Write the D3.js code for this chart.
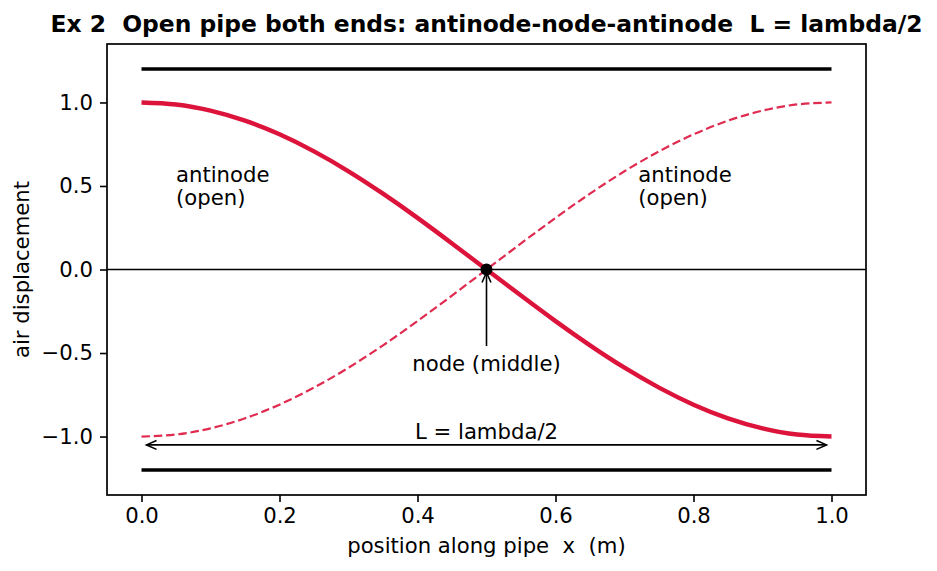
<!DOCTYPE html>
<html>
<head>
<meta charset="utf-8">
<script src="https://cdn.jsdelivr.net/npm/d3@7"></script>
<style>
  body { margin: 0; background: #fff; }
  svg text { font-family: "DejaVu Sans", sans-serif; fill: #000; white-space: pre; }
</style>
</head>
<body>
<div id="chart"></div>
<script>
// values
const xs = [0.0, 0.05, 0.1, 0.15, 0.2, 0.25, 0.3, 0.35, 0.4, 0.45, 0.5,
            0.55, 0.6, 0.65, 0.7, 0.75, 0.8, 0.85, 0.9, 0.95, 1.0];
const solidY = [1.0, 0.988, 0.951, 0.891, 0.809, 0.707, 0.588, 0.454, 0.309, 0.156, 0.0,
                -0.156, -0.309, -0.454, -0.588, -0.707, -0.809, -0.891, -0.951, -0.988, -1.0];
const dashedY = [-1.0, -0.988, -0.951, -0.891, -0.809, -0.707, -0.588, -0.454, -0.309, -0.156, 0.0,
                 0.156, 0.309, 0.454, 0.588, 0.707, 0.809, 0.891, 0.951, 0.988, 1.0];
const pipeWalls = [1.2, -1.2];
const xTicks = [0.0, 0.2, 0.4, 0.6, 0.8, 1.0];
const yTicks = [-1.0, -0.5, 0.0, 0.5, 1.0];
const antinodeLabels = [
  { x: 0.05, y: 0.5, lines: ["antinode", "(open)"] },
  { x: 0.72, y: 0.5, lines: ["antinode", "(open)"] }
];
const node = { x: 0.5, y: 0.0, textY: -0.56, label: "node (middle)" };
const span = { x0: 0.0, x1: 1.0, y: -1.05, textY: -0.97, label: "L = lambda/2" };

const width = 937, height = 571;
const margin = { top: 44, right: 71, bottom: 76, left: 107 };
const fs = 21.2;

const x = d3.scaleLinear().domain([-0.05, 1.05]).range([margin.left, width - margin.right]);
const y = d3.scaleLinear().domain([-1.35, 1.35]).range([height - margin.bottom, margin.top]);

const svg = d3.select("#chart").append("svg")
  .attr("width", width).attr("height", height);

const crimson = "#dc143c";

// zero line
svg.append("line")
  .attr("x1", margin.left).attr("x2", width - margin.right)
  .attr("y1", y(0)).attr("y2", y(0))
  .attr("stroke", "#000").attr("stroke-width", 1.6);

// pipe walls
svg.selectAll(".wall").data(pipeWalls).enter().append("line")
  .attr("x1", x(0)).attr("x2", x(1))
  .attr("y1", d => y(d)).attr("y2", d => y(d))
  .attr("stroke", "#000").attr("stroke-width", 3.6);

const line = d3.line().x(d => x(d[0])).y(d => y(d[1])).curve(d3.curveNatural);

svg.append("path")
  .datum(xs.map((v, i) => [v, dashedY[i]]))
  .attr("d", line).attr("fill", "none")
  .attr("stroke", crimson).attr("stroke-opacity", 0.9)
  .attr("stroke-width", 2.2).attr("stroke-dasharray", "8.5,3.8");

svg.append("path")
  .datum(xs.map((v, i) => [v, solidY[i]]))
  .attr("d", line).attr("fill", "none")
  .attr("stroke", crimson).attr("stroke-width", 4.4);

// node dot
svg.append("circle")
  .attr("cx", x(node.x)).attr("cy", y(node.y)).attr("r", 6).attr("fill", "#000");

function openHead(g, tx, ty, angle) {
  const len = 11, spread = 0.42;
  const p = [
    [tx - len * Math.cos(angle - spread), ty - len * Math.sin(angle - spread)],
    [tx, ty],
    [tx - len * Math.cos(angle + spread), ty - len * Math.sin(angle + spread)]
  ];
  g.append("polyline").attr("points", p.map(q => q.join(",")).join(" "))
    .attr("fill", "none").attr("stroke", "#000").attr("stroke-width", 1.6);
}

// node arrow
const ann = svg.append("g");
const nodeTipY = y(node.y) + 3;
const nodeTailY = y(node.textY) - 17;
ann.append("line")
  .attr("x1", x(node.x)).attr("x2", x(node.x))
  .attr("y1", nodeTailY).attr("y2", nodeTipY)
  .attr("stroke", "#000").attr("stroke-width", 1.6);
openHead(ann, x(node.x), nodeTipY, -Math.PI / 2);
ann.append("text")
  .attr("x", x(node.x)).attr("y", y(node.textY))
  .attr("text-anchor", "middle").attr("dominant-baseline", "central")
  .attr("font-size", fs).text(node.label);

// L span arrow
const sx0 = x(span.x0) + 5, sx1 = x(span.x1) - 5;
ann.append("line")
  .attr("x1", sx0).attr("x2", sx1)
  .attr("y1", y(span.y)).attr("y2", y(span.y))
  .attr("stroke", "#000").attr("stroke-width", 1.6);
openHead(ann, sx0, y(span.y), Math.PI);
openHead(ann, sx1, y(span.y), 0);
ann.append("text")
  .attr("x", x((span.x0 + span.x1) / 2)).attr("y", y(span.textY))
  .attr("text-anchor", "middle").attr("dominant-baseline", "central")
  .attr("font-size", fs).text(span.label);

// antinode labels
antinodeLabels.forEach(a => {
  const t = svg.append("text")
    .attr("x", x(a.x)).attr("y", y(a.y) - 12)
    .attr("font-size", fs).attr("dominant-baseline", "central");
  a.lines.forEach((s, i) => {
    t.append("tspan").attr("x", x(a.x)).attr("dy", i === 0 ? 0 : 23).text(s);
  });
});

// axes
const fmt = d => d3.format(".1f")(d).replace("-", "\u2212");
const xAxis = svg.append("g")
  .attr("transform", `translate(0,${height - margin.bottom})`)
  .call(d3.axisBottom(x).tickValues(xTicks).tickFormat(fmt).tickSize(7).tickPadding(6));
const yAxis = svg.append("g")
  .attr("transform", `translate(${margin.left},0)`)
  .call(d3.axisLeft(y).tickValues(yTicks).tickFormat(fmt).tickSize(7).tickPadding(7));
[xAxis, yAxis].forEach(g => {
  g.select(".domain").remove();
  g.selectAll(".tick line").attr("stroke", "#000").attr("stroke-width", 1.6);
  g.selectAll(".tick text").attr("font-size", fs).attr("font-family", "DejaVu Sans");
});

// frame
svg.append("rect")
  .attr("x", margin.left).attr("y", margin.top)
  .attr("width", width - margin.left - margin.right)
  .attr("height", height - margin.top - margin.bottom)
  .attr("fill", "none").attr("stroke", "#000").attr("stroke-width", 1.7);

// titles
const cx = (margin.left + width - margin.right) / 2;
svg.append("text")
  .attr("x", cx).attr("y", 32)
  .attr("text-anchor", "middle").attr("font-size", 23.4).attr("font-weight", "bold")
  .text("Ex 2  Open pipe both ends: antinode-node-antinode  L = lambda/2");
svg.append("text")
  .attr("x", cx).attr("y", 553)
  .attr("text-anchor", "middle").attr("font-size", fs)
  .text("position along pipe  x  (m)");
svg.append("text")
  .attr("transform", `translate(29,${y(0)}) rotate(-90)`)
  .attr("text-anchor", "middle").attr("font-size", fs)
  .text("air displacement");
</script>
</body>
</html>
